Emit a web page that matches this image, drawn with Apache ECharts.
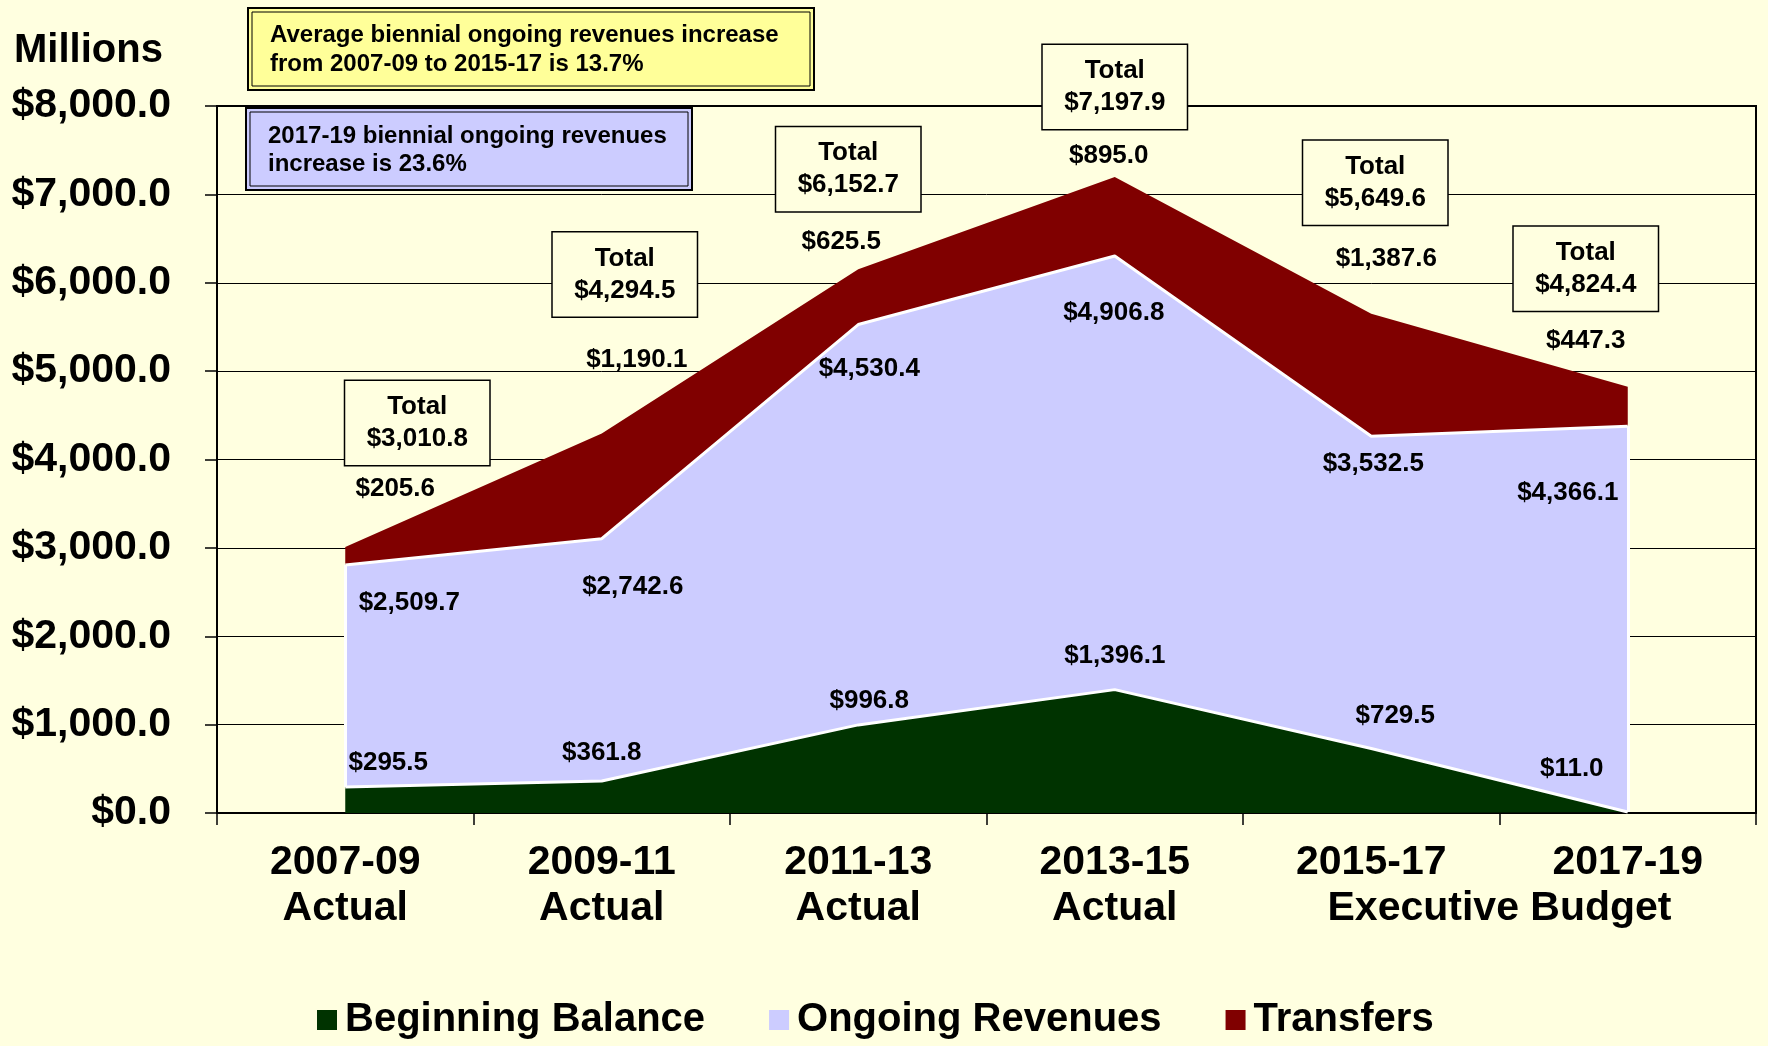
<!DOCTYPE html>
<html>
<head>
<meta charset="utf-8">
<script src="https://cdn.jsdelivr.net/npm/echarts@6/dist/echarts.min.js"></script>
<style>
html,body{margin:0;padding:0;background:#FFFFE0;}
#main{width:1768px;height:1046px;}
</style>
</head>
<body>
<div id="main"></div>
<script>
// biennium categories
var years = ['2007-09','2009-11','2011-13','2013-15','2015-17','2017-19'];
var subLabels = ['Actual','Actual','Actual','Actual','',''];
// values, millions
var beginningBalance = [295.5, 361.8, 996.8, 1396.1, 729.5, 11.0];
var ongoingRevenues = [2509.7, 2742.6, 4530.4, 4906.8, 3532.5, 4366.1];
var transfers = [205.6, 1190.1, 625.5, 895.0, 1387.6, 447.3];
var yMin = 0, yMax = 8000, yStep = 1000;

// label placement (pixels, relative to point)
var balOff = [[43,-24],[0,-28],[11,-24],[0,-34],[24,-33],[-56,-43]];
var ongOff = [[64,38],[31,48],[11,44],[-1,57],[2,27],[-60,67]];
var trfOff = [[50,-58],[35,-74],[-17,-27],[-6,-21],[15,-55],[-42,-46]];
var totOff = [[72,-124],[23,-159],[-10,-100],[0,-90],[4,-131],[-42,-118]];

var FONT = '"Liberation Sans", Arial, sans-serif';

function money(v){
	var s = Number(v).toFixed(1).split('.');
	s[0] = s[0].replace(/\B(?=(\d{3})+(?!\d))/g, ',');
	return '$' + s.join('.');
}
function build(vals, offs){
	var out = [];
	for(var i=0;i<vals.length;i++){
		out.push({value: vals[i], label: {offset: offs[i]}});
	}
	return out;
}
var totals = [];
for(var i=0;i<years.length;i++){
	totals.push(Math.round((beginningBalance[i]+ongoingRevenues[i]+transfers[i])*10)/10);
}

var valLabel = {
	show: true, position: 'inside', color: '#000',
	fontSize: 26, fontWeight: 'bold', fontFamily: FONT,
	formatter: function(p){ return money(p.value); }
};

var chart = echarts.init(document.getElementById('main'));
var option = {
	backgroundColor: '#FFFFE0',
	animation: false,
	textStyle: {fontFamily: FONT},
	grid: {left: 217, right: 12, top: 106, bottom: 233, show: true,
		backgroundColor: '#FFFFE0', borderColor: '#000', borderWidth: 2},
	legend: {
		data: ['Beginning Balance','Ongoing Revenues','Transfers'],
		top: 995, left: 312, icon: 'rect', itemWidth: 20, itemHeight: 20, itemGap: 64,
		textStyle: {fontSize: 40, fontWeight: 'bold', color: '#000', fontFamily: FONT, padding: [0,0,0,3]}
	},
	xAxis: {
		type: 'category', data: years, boundaryGap: true,
		axisLine: {lineStyle: {color: '#000', width: 2}},
		axisTick: {show: true, length: 12, lineStyle: {color: '#000', width: 1.5}},
		axisLabel: {
			interval: 0, margin: 27, color: '#000', fontSize: 41, fontWeight: 'bold', lineHeight: 46,
			formatter: function(v, i){ return subLabels[i] ? v + '\n' + subLabels[i] : v; }
		}
	},
	yAxis: {
		type: 'value', min: yMin, max: yMax, interval: yStep,
		axisLine: {show: true, lineStyle: {color: '#000', width: 2}},
		axisTick: {show: true, length: 12, lineStyle: {color: '#000', width: 1.5}},
		splitLine: {lineStyle: {color: '#000', width: 1}},
		axisLabel: {margin: 46, color: '#000', fontSize: 41, fontWeight: 'bold', formatter: money}
	},
	series: [
		{
			name: 'Beginning Balance', type: 'line', stack: 'all', z: 4,
			symbol: 'circle', symbolSize: 0, showSymbol: true,
			lineStyle: {color: '#fff', width: 3},
			itemStyle: {color: '#003300'},
			areaStyle: {color: '#003300', opacity: 1},
			label: valLabel,
			data: build(beginningBalance, balOff)
		},
		{
			name: 'Ongoing Revenues', type: 'line', stack: 'all', z: 3,
			symbol: 'circle', symbolSize: 0, showSymbol: true,
			lineStyle: {color: '#fff', width: 3},
			itemStyle: {color: '#CCCCFF'},
			areaStyle: {color: '#CCCCFF', opacity: 1},
			label: valLabel,
			markLine: {
				symbol: 'none', silent: true, label: {show: false},
				lineStyle: {color: '#fff', width: 3, type: 'solid'},
				data: [
					[{coord: [years[0], beginningBalance[0]]}, {coord: [years[0], beginningBalance[0]+ongoingRevenues[0]]}],
					[{coord: [years[5], beginningBalance[5]]}, {coord: [years[5], beginningBalance[5]+ongoingRevenues[5]]}]
				]
			},
			data: build(ongoingRevenues, ongOff)
		},
		{
			name: 'Transfers', type: 'line', stack: 'all', z: 2,
			symbol: 'circle', symbolSize: 0, showSymbol: true,
			lineStyle: {width: 0},
			itemStyle: {color: '#800000'},
			areaStyle: {color: '#800000', opacity: 1},
			label: valLabel,
			data: build(transfers, trfOff)
		},
		{
			name: 'Total', type: 'line', z: 6,
			symbol: 'circle', symbolSize: 0, showSymbol: true,
			lineStyle: {width: 0, opacity: 0},
			itemStyle: {color: '#000'},
			label: {
				show: true, position: 'inside', color: '#000', fontSize: 26, fontWeight: 'bold',
				lineHeight: 32, align: 'center', width: 104,
				backgroundColor: '#FFFFE0', borderColor: '#000', borderWidth: 1.5, padding: [10, 20],
				formatter: function(p){ return 'Total\n' + money(p.value); }
			},
			data: build(totals, totOff)
		}
	],
	graphic: [
		{type: 'text', left: 14, top: 31, style: {text: 'Millions', font: 'bold 40px ' + FONT, fill: '#000'}},
		{type: 'rect', shape: {x: 248, y: 8, width: 566, height: 82}, style: {fill: '#FFFF99', stroke: '#000', lineWidth: 2}},
		{type: 'rect', shape: {x: 252, y: 12, width: 558, height: 74}, style: {fill: '#FFFF99', stroke: '#000', lineWidth: 1}},
		{type: 'text', x: 270, y: 21, style: {text: 'Average biennial ongoing revenues increase\nfrom 2007-09 to 2015-17 is 13.7%',
			font: 'bold 24px ' + FONT, lineHeight: 29, fill: '#000'}},
		{type: 'rect', shape: {x: 246, y: 108, width: 446, height: 82}, style: {fill: '#CCCCFF', stroke: '#000', lineWidth: 2}},
		{type: 'rect', shape: {x: 250, y: 112, width: 438, height: 74}, style: {fill: '#CCCCFF', stroke: '#000', lineWidth: 1}},
		{type: 'text', x: 268, y: 122, style: {text: '2017-19 biennial ongoing revenues\nincrease is 23.6%',
			font: 'bold 24px ' + FONT, lineHeight: 28, fill: '#000'}}
	]
};
chart.setOption(option);

// "Executive Budget" spans the last two categories
var p4 = chart.convertToPixel({xAxisIndex: 0}, years[4]);
var p5 = chart.convertToPixel({xAxisIndex: 0}, years[5]);
var base = chart.convertToPixel({yAxisIndex: 0}, yMin);
option.graphic.push({type: 'text', x: (p4 + p5) / 2, y: base + 27 + 46 + 23,
	style: {text: 'Executive Budget', font: 'bold 41px ' + FONT, fill: '#000', textAlign: 'center', textVerticalAlign: 'middle'}});
chart.setOption({graphic: option.graphic});
</script>
</body>
</html>
